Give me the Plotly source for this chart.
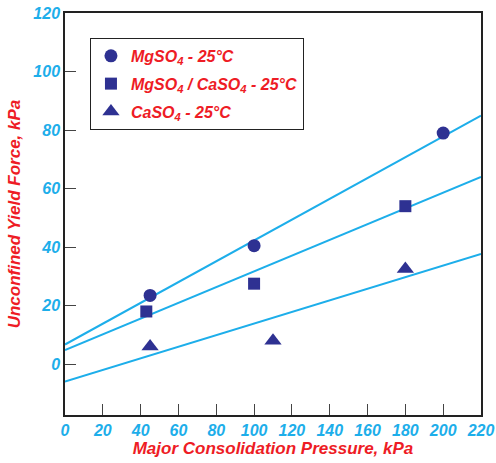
import plotly.graph_objects as go

# data
mg_x = [45, 100, 200]
mg_y = [23.5, 40.5, 79]
mix_x = [43, 100, 180]
mix_y = [18, 27.5, 54]
ca_x = [45, 110, 180]
ca_y = [6, 8, 32.5]

fit_x = [0, 220]
fit_mg = [6.7, 85]
fit_mix = [4.8, 64]
fit_ca = [-6.0, 37.7]

x_ticks = list(range(0, 221, 20))
y_ticks = list(range(0, 121, 20))

LINE = "#1DAEEA"
MARK = "#2E3192"
RED = "#EE1C25"
TICK = "#1DAEEA"
FONT = "Liberation Sans, Arial, sans-serif"

fig = go.Figure()
for fy in [fit_mg, fit_mix, fit_ca]:
    fig.add_trace(go.Scatter(x=fit_x, y=fy, mode="lines",
                             line=dict(color=LINE, width=2), showlegend=False,
                             hoverinfo="skip"))

fig.add_trace(go.Scatter(x=mg_x, y=mg_y, mode="markers", legendgroup="a",
                         marker=dict(symbol="circle", size=13, color=MARK),
                         name="<b><i>MgSO<sub>4</sub> - 25°C</i></b>"))
fig.add_trace(go.Scatter(x=mix_x, y=mix_y, mode="markers", legendgroup="b",
                         marker=dict(symbol="square", size=12, color=MARK),
                         name="<b><i>MgSO<sub>4</sub> / CaSO<sub>4</sub> - 25°C</i></b>"))
fig.add_trace(go.Scatter(x=ca_x, y=ca_y, mode="markers", legendgroup="c",
                         marker=dict(symbol="triangle-up", size=15, color=MARK),
                         name="<b><i>CaSO<sub>4</sub> - 25°C</i></b>"))

axis_common = dict(
    showgrid=False, zeroline=False, showline=True, linecolor="#222222",
    linewidth=1.5, mirror=True, ticks="inside", ticklen=11, tickwidth=1,
    tickcolor="#444444", automargin=False,
    tickfont=dict(family=FONT, size=16, color=TICK, weight="bold", style="italic"),
)

fig.update_layout(
    width=496, height=463,
    margin=dict(l=65, r=15, t=13, b=48),
    paper_bgcolor="white", plot_bgcolor="white",
    font=dict(family=FONT),
    xaxis=dict(range=[0, 220], tickvals=x_ticks,
               title=dict(text="<b><i>Major Consolidation Pressure, kPa</i></b>",
                          font=dict(family=FONT, size=17, color=RED), standoff=4),
               **axis_common),
    yaxis=dict(range=[-17.4, 120.05], tickvals=y_ticks,
               title=dict(text="<b><i>Unconfined Yield Force, kPa</i></b>",
                          font=dict(family=FONT, size=17, color=RED), standoff=8),
               **axis_common),
    legend=dict(x=0.06, y=0.938, xanchor="left", yanchor="top",
                bgcolor="white", bordercolor="#222222", borderwidth=1,
                font=dict(family=FONT, size=16, color=RED),
                tracegroupgap=4),
)

fig.write_html("out.html", config={"displayModeBar": False},
               post_script="document.body.style.margin='0';")
